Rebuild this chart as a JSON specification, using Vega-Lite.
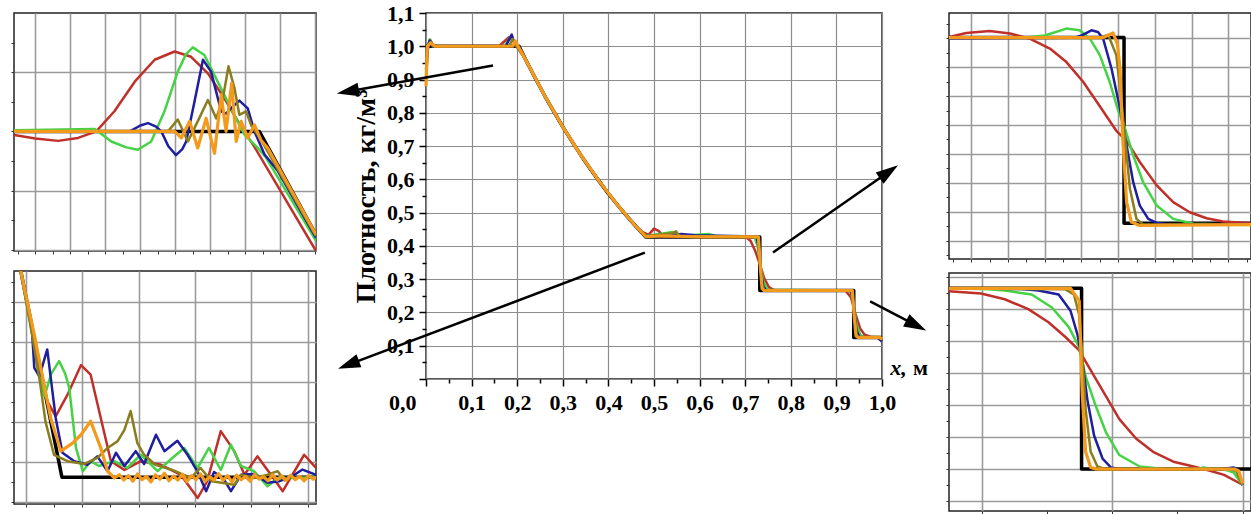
{
"$schema": "https://vega.github.io/schema/vega-lite/v6.json",
"background": "white",
"padding": {"left": 9, "top": 1, "right": 0, "bottom": 0},
"config": {
  "font": "Liberation Serif",
  "view": {"stroke": "#222222", "strokeWidth": 1.5},
  "axis": {"minExtent": 0}
},
"datasets": {
"c": [
{"s":"k","x":0,"y":1.0},{"s":"k","x":0.204,"y":1.0},{"s":"k","x":0.22,"y":0.956},{"s":"k","x":0.24,"y":0.903},{"s":"k","x":0.26,"y":0.852},{"s":"k","x":0.28,"y":0.804},{"s":"k","x":0.30,"y":0.758},{"s":"k","x":0.32,"y":0.714},{"s":"k","x":0.34,"y":0.672},{"s":"k","x":0.36,"y":0.632},{"s":"k","x":0.38,"y":0.594},{"s":"k","x":0.40,"y":0.557},{"s":"k","x":0.42,"y":0.523},{"s":"k","x":0.44,"y":0.490},{"s":"k","x":0.46,"y":0.459},{"s":"k","x":0.482,"y":0.427},{"s":"k","x":0.732,"y":0.427},{"s":"k","x":0.732,"y":0.266},{"s":"k","x":0.938,"y":0.266},{"s":"k","x":0.938,"y":0.125},{"s":"k","x":1.0,"y":0.125},
{"s":"r","x":0,"y":0.90},{"s":"r","x":0.004,"y":0.99},{"s":"r","x":0.009,"y":1.02},{"s":"r","x":0.015,"y":1.005},{"s":"r","x":0.025,"y":1.0},{"s":"r","x":0.16,"y":1.0},{"s":"r","x":0.172,"y":1.015},{"s":"r","x":0.182,"y":1.027},{"s":"r","x":0.192,"y":1.015},{"s":"r","x":0.2,"y":1.0},{"s":"r","x":0.21,"y":0.985},{"s":"r","x":0.22,"y":0.956},{"s":"r","x":0.26,"y":0.852},{"s":"r","x":0.30,"y":0.758},{"s":"r","x":0.34,"y":0.672},{"s":"r","x":0.38,"y":0.594},{"s":"r","x":0.42,"y":0.523},{"s":"r","x":0.46,"y":0.459},{"s":"r","x":0.474,"y":0.442},{"s":"r","x":0.488,"y":0.433},{"s":"r","x":0.5,"y":0.452},{"s":"r","x":0.51,"y":0.445},{"s":"r","x":0.52,"y":0.43},{"s":"r","x":0.55,"y":0.428},{"s":"r","x":0.70,"y":0.428},{"s":"r","x":0.712,"y":0.415},{"s":"r","x":0.722,"y":0.385},{"s":"r","x":0.732,"y":0.345},{"s":"r","x":0.742,"y":0.302},{"s":"r","x":0.752,"y":0.276},{"s":"r","x":0.765,"y":0.266},{"s":"r","x":0.92,"y":0.266},{"s":"r","x":0.932,"y":0.245},{"s":"r","x":0.942,"y":0.195},{"s":"r","x":0.952,"y":0.152},{"s":"r","x":0.962,"y":0.133},{"s":"r","x":0.975,"y":0.127},{"s":"r","x":0.99,"y":0.125},{"s":"r","x":1.0,"y":0.112},
{"s":"g","x":0,"y":0.92},{"s":"g","x":0.004,"y":1.0},{"s":"g","x":0.008,"y":1.02},{"s":"g","x":0.014,"y":1.0},{"s":"g","x":0.17,"y":1.0},{"s":"g","x":0.178,"y":1.012},{"s":"g","x":0.186,"y":1.03},{"s":"g","x":0.195,"y":1.01},{"s":"g","x":0.204,"y":0.995},{"s":"g","x":0.22,"y":0.956},{"s":"g","x":0.26,"y":0.852},{"s":"g","x":0.30,"y":0.758},{"s":"g","x":0.34,"y":0.672},{"s":"g","x":0.38,"y":0.594},{"s":"g","x":0.42,"y":0.523},{"s":"g","x":0.46,"y":0.459},{"s":"g","x":0.482,"y":0.43},{"s":"g","x":0.51,"y":0.435},{"s":"g","x":0.54,"y":0.442},{"s":"g","x":0.55,"y":0.43},{"s":"g","x":0.62,"y":0.436},{"s":"g","x":0.64,"y":0.428},{"s":"g","x":0.72,"y":0.428},{"s":"g","x":0.727,"y":0.40},{"s":"g","x":0.734,"y":0.335},{"s":"g","x":0.741,"y":0.287},{"s":"g","x":0.75,"y":0.268},{"s":"g","x":0.93,"y":0.266},{"s":"g","x":0.937,"y":0.232},{"s":"g","x":0.944,"y":0.165},{"s":"g","x":0.952,"y":0.133},{"s":"g","x":0.962,"y":0.125},{"s":"g","x":0.99,"y":0.127},{"s":"g","x":1.0,"y":0.113},
{"s":"b","x":0,"y":0.93},{"s":"b","x":0.004,"y":1.0},{"s":"b","x":0.008,"y":1.017},{"s":"b","x":0.013,"y":1.0},{"s":"b","x":0.175,"y":1.0},{"s":"b","x":0.182,"y":1.02},{"s":"b","x":0.188,"y":1.035},{"s":"b","x":0.196,"y":1.0},{"s":"b","x":0.204,"y":0.997},{"s":"b","x":0.22,"y":0.956},{"s":"b","x":0.26,"y":0.852},{"s":"b","x":0.30,"y":0.758},{"s":"b","x":0.34,"y":0.672},{"s":"b","x":0.38,"y":0.594},{"s":"b","x":0.42,"y":0.523},{"s":"b","x":0.46,"y":0.459},{"s":"b","x":0.482,"y":0.43},{"s":"b","x":0.53,"y":0.43},{"s":"b","x":0.56,"y":0.436},{"s":"b","x":0.59,"y":0.432},{"s":"b","x":0.725,"y":0.428},{"s":"b","x":0.73,"y":0.39},{"s":"b","x":0.735,"y":0.32},{"s":"b","x":0.74,"y":0.277},{"s":"b","x":0.746,"y":0.266},{"s":"b","x":0.932,"y":0.266},{"s":"b","x":0.938,"y":0.22},{"s":"b","x":0.944,"y":0.147},{"s":"b","x":0.95,"y":0.127},{"s":"b","x":0.99,"y":0.125},{"s":"b","x":1.0,"y":0.113},
{"s":"o","x":0,"y":0.90},{"s":"o","x":0.003,"y":1.0},{"s":"o","x":0.01,"y":1.012},{"s":"o","x":0.016,"y":1.0},{"s":"o","x":0.182,"y":1.0},{"s":"o","x":0.19,"y":1.022},{"s":"o","x":0.198,"y":1.0},{"s":"o","x":0.22,"y":0.956},{"s":"o","x":0.26,"y":0.852},{"s":"o","x":0.30,"y":0.758},{"s":"o","x":0.34,"y":0.672},{"s":"o","x":0.38,"y":0.594},{"s":"o","x":0.42,"y":0.523},{"s":"o","x":0.46,"y":0.459},{"s":"o","x":0.482,"y":0.43},{"s":"o","x":0.54,"y":0.438},{"s":"o","x":0.548,"y":0.444},{"s":"o","x":0.556,"y":0.43},{"s":"o","x":0.728,"y":0.428},{"s":"o","x":0.732,"y":0.36},{"s":"o","x":0.737,"y":0.282},{"s":"o","x":0.742,"y":0.266},{"s":"o","x":0.934,"y":0.266},{"s":"o","x":0.939,"y":0.2},{"s":"o","x":0.944,"y":0.132},{"s":"o","x":0.948,"y":0.125},{"s":"o","x":0.995,"y":0.125},{"s":"o","x":1.0,"y":0.118},
{"s":"y","x":0,"y":0.88},{"s":"y","x":0.003,"y":1.0},{"s":"y","x":0.01,"y":1.01},{"s":"y","x":0.02,"y":1.0},{"s":"y","x":0.19,"y":1.0},{"s":"y","x":0.196,"y":1.016},{"s":"y","x":0.202,"y":1.0},{"s":"y","x":0.22,"y":0.956},{"s":"y","x":0.26,"y":0.852},{"s":"y","x":0.30,"y":0.758},{"s":"y","x":0.34,"y":0.672},{"s":"y","x":0.38,"y":0.594},{"s":"y","x":0.42,"y":0.523},{"s":"y","x":0.46,"y":0.459},{"s":"y","x":0.482,"y":0.428},{"s":"y","x":0.52,"y":0.43},{"s":"y","x":0.6,"y":0.427},{"s":"y","x":0.729,"y":0.427},{"s":"y","x":0.733,"y":0.34},{"s":"y","x":0.737,"y":0.272},{"s":"y","x":0.741,"y":0.266},{"s":"y","x":0.935,"y":0.266},{"s":"y","x":0.939,"y":0.19},{"s":"y","x":0.943,"y":0.13},{"s":"y","x":0.947,"y":0.125},{"s":"y","x":0.995,"y":0.125},{"s":"y","x":1.0,"y":0.12}
],
"arr": [
{"x":0.147,"y":0.942,"x2":-0.1715,"y2":0.864},
{"x":0.480,"y":0.380,"x2":-0.170,"y2":0.043},
{"x":0.761,"y":0.380,"x2":1.015,"y2":0.623},
{"x":0.974,"y":0.233,"x2":1.075,"y2":0.161}
],
"heads": [
{"x":-0.1715,"y":0.864,"a":169.8},
{"x":-0.170,"y":0.043,"a":159.3},
{"x":1.015,"y":0.623,"a":325.2},
{"x":1.075,"y":0.161,"a":27.4}
],
"tl": [
{"s":"k","x":-0.61,"y":0},{"s":"k","x":6.4,"y":0},{"s":"k","x":8.02,"y":-1.75},
{"s":"r","x":-0.61,"y":-0.06},{"s":"r","x":0.0,"y":-0.12},{"s":"r","x":0.65,"y":-0.16},{"s":"r","x":1.22,"y":-0.11},{"s":"r","x":1.74,"y":0.0},{"s":"r","x":2.26,"y":0.34},{"s":"r","x":2.84,"y":0.84},{"s":"r","x":3.41,"y":1.21},{"s":"r","x":3.98,"y":1.35},{"s":"r","x":4.45,"y":1.26},{"s":"r","x":4.93,"y":0.98},{"s":"r","x":5.40,"y":0.56},{"s":"r","x":5.88,"y":0.08},{"s":"r","x":6.26,"y":-0.26},{"s":"r","x":8.02,"y":-2.02},
{"s":"g","x":-0.61,"y":0.02},{"s":"g","x":1.7,"y":0.04},{"s":"g","x":2.17,"y":-0.17},{"s":"g","x":2.6,"y":-0.27},{"s":"g","x":2.93,"y":-0.31},{"s":"g","x":3.31,"y":-0.17},{"s":"g","x":3.69,"y":0.34},{"s":"g","x":4.07,"y":1.01},{"s":"g","x":4.3,"y":1.3},{"s":"g","x":4.5,"y":1.42},{"s":"g","x":4.83,"y":1.29},{"s":"g","x":5.21,"y":0.84},{"s":"g","x":5.59,"y":0.39},{"s":"g","x":5.98,"y":-0.06},{"s":"g","x":6.36,"y":-0.28},{"s":"g","x":6.6,"y":-0.45},{"s":"g","x":8.02,"y":-1.85},
{"s":"b","x":-0.61,"y":0},{"s":"b","x":2.7,"y":0},{"s":"b","x":3.0,"y":0.1},{"s":"b","x":3.22,"y":0.14},{"s":"b","x":3.45,"y":0.08},{"s":"b","x":3.6,"y":0},{"s":"b","x":3.8,"y":-0.25},{"s":"b","x":4.02,"y":-0.40},{"s":"b","x":4.2,"y":-0.3},{"s":"b","x":4.31,"y":-0.17},{"s":"b","x":4.55,"y":0.51},{"s":"b","x":4.79,"y":1.21},{"s":"b","x":5.02,"y":1.01},{"s":"b","x":5.31,"y":0.34},{"s":"b","x":5.45,"y":0.3},{"s":"b","x":5.59,"y":0.39},{"s":"b","x":5.83,"y":0.52},{"s":"b","x":6.07,"y":0.39},{"s":"b","x":6.26,"y":0.0},{"s":"b","x":6.55,"y":-0.39},{"s":"b","x":6.93,"y":-0.67},{"s":"b","x":8.02,"y":-1.80},
{"s":"o","x":-0.61,"y":0},{"s":"o","x":3.79,"y":0},{"s":"o","x":4.07,"y":0.2},{"s":"o","x":4.36,"y":-0.17},{"s":"o","x":4.64,"y":0.17},{"s":"o","x":4.93,"y":0.53},{"s":"o","x":5.17,"y":0.22},{"s":"o","x":5.36,"y":0.56},{"s":"o","x":5.52,"y":1.1},{"s":"o","x":5.69,"y":0.73},{"s":"o","x":5.83,"y":0.28},{"s":"o","x":6.02,"y":0.34},{"s":"o","x":6.17,"y":0.1},{"s":"o","x":6.36,"y":-0.06},{"s":"o","x":6.6,"y":-0.3},{"s":"o","x":8.02,"y":-1.77},
{"s":"y","x":-0.61,"y":0},{"s":"y","x":3.98,"y":0},{"s":"y","x":4.17,"y":-0.11},{"s":"y","x":4.41,"y":0.17},{"s":"y","x":4.64,"y":-0.28},{"s":"y","x":4.88,"y":0.22},{"s":"y","x":5.12,"y":-0.37},{"s":"y","x":5.31,"y":0.62},{"s":"y","x":5.45,"y":0.0},{"s":"y","x":5.61,"y":0.81},{"s":"y","x":5.74,"y":-0.17},{"s":"y","x":5.88,"y":0.17},{"s":"y","x":6.07,"y":-0.11},{"s":"y","x":6.26,"y":0.11},{"s":"y","x":6.45,"y":-0.15},{"s":"y","x":6.64,"y":-0.28},{"s":"y","x":8.02,"y":-1.74}
],
"bl": [
{"s":"k","x":-0.09,"y":5.77},{"s":"k","x":0.64,"y":0.62},{"s":"k","x":5.15,"y":0.62},
{"s":"r","x":-0.09,"y":5.77},{"s":"r","x":0.1,"y":4.4},{"s":"r","x":0.25,"y":3.3},{"s":"r","x":0.38,"y":2.52},{"s":"r","x":0.53,"y":2.14},{"s":"r","x":0.74,"y":2.68},{"s":"r","x":0.98,"y":3.42},{"s":"r","x":1.15,"y":3.18},{"s":"r","x":1.33,"y":2.1},{"s":"r","x":1.51,"y":1.02},{"s":"r","x":1.75,"y":0.8},{"s":"r","x":2.04,"y":1.02},{"s":"r","x":2.4,"y":0.93},{"s":"r","x":2.75,"y":0.68},{"s":"r","x":3.05,"y":0.1},{"s":"r","x":3.22,"y":0.52},{"s":"r","x":3.46,"y":1.77},{"s":"r","x":3.70,"y":1.27},{"s":"r","x":3.88,"y":0.68},{"s":"r","x":4.11,"y":1.14},{"s":"r","x":4.35,"y":0.68},{"s":"r","x":4.56,"y":0.27},{"s":"r","x":4.73,"y":0.68},{"s":"r","x":4.94,"y":1.18},{"s":"r","x":5.15,"y":0.85},
{"s":"g","x":-0.09,"y":5.77},{"s":"g","x":0.1,"y":4.3},{"s":"g","x":0.2,"y":3.4},{"s":"g","x":0.33,"y":2.64},{"s":"g","x":0.45,"y":3.2},{"s":"g","x":0.59,"y":3.52},{"s":"g","x":0.7,"y":3.2},{"s":"g","x":0.77,"y":2.85},{"s":"g","x":0.89,"y":1.35},{"s":"g","x":1.01,"y":0.77},{"s":"g","x":1.15,"y":1.02},{"s":"g","x":1.3,"y":0.9},{"s":"g","x":1.57,"y":1.02},{"s":"g","x":1.8,"y":0.85},{"s":"g","x":2.04,"y":1.18},{"s":"g","x":2.34,"y":0.77},{"s":"g","x":2.6,"y":1.1},{"s":"g","x":2.81,"y":1.35},{"s":"g","x":3.05,"y":0.85},{"s":"g","x":3.25,"y":1.35},{"s":"g","x":3.46,"y":0.8},{"s":"g","x":3.64,"y":1.43},{"s":"g","x":3.82,"y":0.9},{"s":"g","x":4.05,"y":0.77},{"s":"g","x":4.29,"y":0.39},{"s":"g","x":4.47,"y":0.6},{"s":"g","x":4.7,"y":0.6},{"s":"g","x":5.15,"y":0.62},
{"s":"b","x":-0.09,"y":5.77},{"s":"b","x":0.1,"y":4.5},{"s":"b","x":0.15,"y":3.35},{"s":"b","x":0.24,"y":3.14},{"s":"b","x":0.38,"y":3.81},{"s":"b","x":0.53,"y":2.1},{"s":"b","x":0.65,"y":1.23},{"s":"b","x":0.86,"y":1.02},{"s":"b","x":1.09,"y":0.93},{"s":"b","x":1.27,"y":1.14},{"s":"b","x":1.45,"y":0.77},{"s":"b","x":1.60,"y":1.23},{"s":"b","x":1.75,"y":0.9},{"s":"b","x":1.95,"y":1.27},{"s":"b","x":2.1,"y":0.95},{"s":"b","x":2.31,"y":1.68},{"s":"b","x":2.46,"y":1.27},{"s":"b","x":2.69,"y":1.53},{"s":"b","x":2.87,"y":1.18},{"s":"b","x":3.05,"y":0.75},{"s":"b","x":3.2,"y":0.27},{"s":"b","x":3.34,"y":0.75},{"s":"b","x":3.5,"y":0.6},{"s":"b","x":3.64,"y":0.27},{"s":"b","x":3.82,"y":0.68},{"s":"b","x":4.05,"y":0.7},{"s":"b","x":4.29,"y":0.48},{"s":"b","x":4.5,"y":0.52},{"s":"b","x":4.7,"y":0.62},{"s":"b","x":4.91,"y":0.81},{"s":"b","x":5.15,"y":0.68},
{"s":"o","x":-0.09,"y":5.77},{"s":"o","x":0.12,"y":4.1},{"s":"o","x":0.25,"y":3.0},{"s":"o","x":0.35,"y":2.0},{"s":"o","x":0.50,"y":1.18},{"s":"o","x":0.74,"y":1.02},{"s":"o","x":1.04,"y":0.95},{"s":"o","x":1.27,"y":1.1},{"s":"o","x":1.45,"y":1.35},{"s":"o","x":1.63,"y":1.52},{"s":"o","x":1.75,"y":1.8},{"s":"o","x":1.86,"y":2.27},{"s":"o","x":1.98,"y":1.47},{"s":"o","x":2.1,"y":1.18},{"s":"o","x":2.3,"y":0.93},{"s":"o","x":2.6,"y":0.8},{"s":"o","x":2.93,"y":0.6},{"s":"o","x":3.1,"y":0.85},{"s":"o","x":3.3,"y":0.52},{"s":"o","x":3.7,"y":0.43},{"s":"o","x":3.82,"y":0.68},{"s":"o","x":4.05,"y":0.6},{"s":"o","x":4.29,"y":0.68},{"s":"o","x":4.47,"y":0.77},{"s":"o","x":4.6,"y":0.52},
{"s":"y","x":-0.09,"y":5.77},{"s":"y","x":0.15,"y":4.18},{"s":"y","x":0.3,"y":3.1},{"s":"y","x":0.44,"y":2.1},{"s":"y","x":0.62,"y":1.27},{"s":"y","x":0.83,"y":1.47},{"s":"y","x":0.98,"y":1.68},{"s":"y","x":1.15,"y":2.02},{"s":"y","x":1.33,"y":1.35},{"s":"y","x":1.45,"y":0.77},{"s":"y","x":1.57,"y":0.6},{"s":"y","x":1.66,"y":0.68},{"s":"y","x":1.74,"y":0.55},{"s":"y","x":1.82,"y":0.66},{"s":"y","x":1.9,"y":0.52},{"s":"y","x":1.98,"y":0.7},{"s":"y","x":2.06,"y":0.56},{"s":"y","x":2.14,"y":0.64},{"s":"y","x":2.22,"y":0.5},{"s":"y","x":2.3,"y":0.68},{"s":"y","x":2.38,"y":0.57},{"s":"y","x":2.46,"y":0.72},{"s":"y","x":2.54,"y":0.53},{"s":"y","x":2.62,"y":0.65},{"s":"y","x":2.7,"y":0.55},{"s":"y","x":2.78,"y":0.69},{"s":"y","x":2.86,"y":0.51},{"s":"y","x":2.94,"y":0.66},{"s":"y","x":3.02,"y":0.56},{"s":"y","x":3.1,"y":0.7},{"s":"y","x":3.18,"y":0.52},{"s":"y","x":3.26,"y":0.63},{"s":"y","x":3.34,"y":0.55},{"s":"y","x":3.42,"y":0.71},{"s":"y","x":3.5,"y":0.54},{"s":"y","x":3.58,"y":0.66},{"s":"y","x":3.66,"y":0.5},{"s":"y","x":3.74,"y":0.67},{"s":"y","x":3.82,"y":0.56},{"s":"y","x":3.9,"y":0.64},{"s":"y","x":3.98,"y":0.52},{"s":"y","x":4.06,"y":0.69},{"s":"y","x":4.14,"y":0.57},{"s":"y","x":4.22,"y":0.63},{"s":"y","x":4.3,"y":0.53},{"s":"y","x":4.38,"y":0.68},{"s":"y","x":4.46,"y":0.55},{"s":"y","x":4.54,"y":0.65},{"s":"y","x":4.62,"y":0.54},{"s":"y","x":4.7,"y":0.67},{"s":"y","x":4.78,"y":0.56},{"s":"y","x":4.86,"y":0.64},{"s":"y","x":4.94,"y":0.53},{"s":"y","x":5.02,"y":0.66},{"s":"y","x":5.1,"y":0.57},{"s":"y","x":5.15,"y":0.62}
],
"tr": [
{"s":"k","x":-0.61,"y":7.03},{"s":"k","x":4.16,"y":7.03},{"s":"k","x":4.16,"y":0.6},{"s":"k","x":7.62,"y":0.6},
{"s":"r","x":-0.61,"y":7.05},{"s":"r","x":-0.14,"y":7.19},{"s":"r","x":0.5,"y":7.26},{"s":"r","x":1.05,"y":7.17},{"s":"r","x":1.59,"y":6.99},{"s":"r","x":2.14,"y":6.65},{"s":"r","x":2.59,"y":6.18},{"s":"r","x":3.05,"y":5.49},{"s":"r","x":3.5,"y":4.65},{"s":"r","x":3.95,"y":3.8},{"s":"r","x":4.23,"y":3.45},{"s":"r","x":4.59,"y":2.72},{"s":"r","x":5.05,"y":1.91},{"s":"r","x":5.5,"y":1.33},{"s":"r","x":5.95,"y":0.98},{"s":"r","x":6.41,"y":0.77},{"s":"r","x":6.86,"y":0.66},{"s":"r","x":7.62,"y":0.6},
{"s":"g","x":-0.61,"y":7.03},{"s":"g","x":1.5,"y":7.03},{"s":"g","x":2.0,"y":7.1},{"s":"g","x":2.59,"y":7.34},{"s":"g","x":2.95,"y":7.28},{"s":"g","x":3.23,"y":6.99},{"s":"g","x":3.5,"y":6.42},{"s":"g","x":3.77,"y":5.49},{"s":"g","x":4.0,"y":4.5},{"s":"g","x":4.16,"y":3.99},{"s":"g","x":4.41,"y":2.95},{"s":"g","x":4.68,"y":2.02},{"s":"g","x":5.05,"y":1.21},{"s":"g","x":5.5,"y":0.75},{"s":"g","x":6.05,"y":0.58},{"s":"g","x":7.62,"y":0.54},
{"s":"b","x":-0.61,"y":7.0},{"s":"b","x":2.8,"y":7.02},{"s":"b","x":3.0,"y":7.1},{"s":"b","x":3.27,"y":7.28},{"s":"b","x":3.45,"y":7.22},{"s":"b","x":3.59,"y":6.99},{"s":"b","x":3.82,"y":5.95},{"s":"b","x":4.05,"y":4.57},{"s":"b","x":4.23,"y":3.29},{"s":"b","x":4.41,"y":2.02},{"s":"b","x":4.59,"y":1.21},{"s":"b","x":4.82,"y":0.75},{"s":"b","x":5.05,"y":0.61},{"s":"b","x":5.5,"y":0.55},{"s":"b","x":7.62,"y":0.57},
{"s":"o","x":-0.61,"y":7.03},{"s":"o","x":3.5,"y":7.03},{"s":"o","x":3.73,"y":7.12},{"s":"o","x":3.95,"y":6.42},{"s":"o","x":4.09,"y":4.8},{"s":"o","x":4.18,"y":3.64},{"s":"o","x":4.32,"y":1.79},{"s":"o","x":4.5,"y":0.75},{"s":"o","x":4.68,"y":0.56},{"s":"o","x":7.62,"y":0.55},
{"s":"y","x":-0.61,"y":7.03},{"s":"y","x":3.6,"y":7.03},{"s":"y","x":3.86,"y":7.19},{"s":"y","x":3.98,"y":6.8},{"s":"y","x":4.05,"y":5.95},{"s":"y","x":4.12,"y":3.64},{"s":"y","x":4.23,"y":1.33},{"s":"y","x":4.36,"y":0.64},{"s":"y","x":4.59,"y":0.52},{"s":"y","x":7.62,"y":0.55}
],
"br": [
{"s":"k","x":-2.54,"y":6.65},{"s":"k","x":7.64,"y":6.65},{"s":"k","x":7.64,"y":1.0},{"s":"k","x":20.65,"y":1.0},
{"s":"r","x":-2.54,"y":6.56},{"s":"r","x":-0.08,"y":6.49},{"s":"r","x":1.74,"y":6.31},{"s":"r","x":3.55,"y":6.0},{"s":"r","x":5.1,"y":5.59},{"s":"r","x":6.4,"y":5.13},{"s":"r","x":7.44,"y":4.72},{"s":"r","x":8.47,"y":4.0},{"s":"r","x":9.51,"y":3.28},{"s":"r","x":10.54,"y":2.56},{"s":"r","x":11.84,"y":1.95},{"s":"r","x":13.13,"y":1.54},{"s":"r","x":14.69,"y":1.23},{"s":"r","x":16.24,"y":1.08},{"s":"r","x":17.5,"y":0.95},{"s":"r","x":18.58,"y":0.82},{"s":"r","x":20.0,"y":0.51},
{"s":"g","x":-2.54,"y":6.65},{"s":"g","x":0.5,"y":6.62},{"s":"g","x":1.74,"y":6.58},{"s":"g","x":3.81,"y":6.46},{"s":"g","x":5.36,"y":6.05},{"s":"g","x":6.66,"y":5.44},{"s":"g","x":7.44,"y":4.82},{"s":"g","x":7.95,"y":3.9},{"s":"g","x":8.73,"y":2.97},{"s":"g","x":9.51,"y":2.15},{"s":"g","x":10.54,"y":1.44},{"s":"g","x":12.1,"y":1.08},{"s":"g","x":14.0,"y":1.0},{"s":"g","x":16.5,"y":1.0},{"s":"g","x":17.0,"y":1.05},{"s":"g","x":17.5,"y":1.02},{"s":"g","x":18.5,"y":1.0},{"s":"g","x":19.3,"y":0.9},{"s":"g","x":20.0,"y":0.5},
{"s":"b","x":-2.54,"y":6.65},{"s":"b","x":3.0,"y":6.63},{"s":"b","x":4.33,"y":6.58},{"s":"b","x":5.88,"y":6.46},{"s":"b","x":6.79,"y":5.95},{"s":"b","x":7.31,"y":5.23},{"s":"b","x":7.69,"y":4.41},{"s":"b","x":8.08,"y":3.18},{"s":"b","x":8.6,"y":2.05},{"s":"b","x":9.25,"y":1.33},{"s":"b","x":9.9,"y":1.05},{"s":"b","x":10.5,"y":1.0},{"s":"b","x":18.5,"y":1.0},{"s":"b","x":19.3,"y":1.05},{"s":"b","x":19.6,"y":1.0},{"s":"b","x":20.0,"y":0.5},
{"s":"o","x":-2.54,"y":6.65},{"s":"o","x":6.4,"y":6.62},{"s":"o","x":7.05,"y":6.46},{"s":"o","x":7.44,"y":5.85},{"s":"o","x":7.69,"y":4.62},{"s":"o","x":7.95,"y":2.87},{"s":"o","x":8.34,"y":1.54},{"s":"o","x":8.86,"y":1.08},{"s":"o","x":9.5,"y":1.0},{"s":"o","x":19.0,"y":1.0},{"s":"o","x":19.5,"y":0.95},{"s":"o","x":20.0,"y":0.5},
{"s":"y","x":-2.54,"y":6.65},{"s":"y","x":6.8,"y":6.65},{"s":"y","x":7.46,"y":6.26},{"s":"y","x":7.56,"y":4.92},{"s":"y","x":7.69,"y":3.38},{"s":"y","x":7.95,"y":1.54},{"s":"y","x":8.34,"y":1.05},{"s":"y","x":8.8,"y":1.0},{"s":"y","x":19.35,"y":1.0},{"s":"y","x":19.7,"y":0.95},{"s":"y","x":20.0,"y":0.55}
]
},
"spacing": 19,
"hconcat": [
{
  "bounds": "flush",
  "spacing": 20,
  "vconcat": [
    {
      "width": 302, "height": 238,
      "title": {"text": " ", "fontSize": 9, "offset": 0},
      "data": {"name": "tl"},
      "mark": {"type": "line", "clip": true, "strokeJoin": "round"},
      "encoding": {
        "x": {"field": "x", "type": "quantitative", "scale": {"domain": [-0.61, 8.02], "nice": false, "zero": false},
          "axis": {"values": [-0.5,0,0.5,1,1.5,2,2.5,3,3.5,4,4.5,5,5.5,6,6.5,7,7.5,8], "grid": true, "gridColor": "#9a9a9a", "gridWidth": 1.6,
            "gridOpacity": {"condition": {"test": "datum.value == round(datum.value)", "value": 1}, "value": 0},
            "labels": false, "ticks": true, "tickSize": 3, "tickColor": "#333333", "domain": false, "title": null}},
        "y": {"field": "y", "type": "quantitative", "scale": {"domain": [-2.02, 2.0], "nice": false, "zero": false},
          "axis": {"values": [-2,-1.5,-1,-0.5,0,0.5,1,1.5], "grid": true, "gridColor": "#9a9a9a", "gridWidth": 1.6,
            "gridOpacity": {"condition": {"test": "datum.value == round(datum.value)", "value": 1}, "value": 0},
            "labels": false, "ticks": true, "tickSize": 3, "tickColor": "#333333", "domain": false, "title": null}},
        "color": {"field": "s", "type": "nominal", "scale": {"domain": ["k","r","g","b","o","y"], "range": ["#000000","#c0302a","#45d345","#1e1e9e","#8a7d1e","#f39a1c"]}, "legend": null},
        "strokeWidth": {"field": "s", "type": "nominal", "scale": {"type": "ordinal", "domain": ["k","r","g","b","o","y"], "range": [3.5,2.5,2.5,2.5,2.5,3.2]}, "legend": null},
        "order": {"value": null}
      }
    },
    {
      "width": 302, "height": 233,
      "data": {"name": "bl"},
      "mark": {"type": "line", "clip": true, "strokeJoin": "round"},
      "encoding": {
        "x": {"field": "x", "type": "quantitative", "scale": {"domain": [-0.21, 5.15], "nice": false, "zero": false},
          "axis": {"values": [0,0.5,1,1.5,2,2.5,3,3.5,4,4.5,5], "grid": true, "gridColor": "#9a9a9a", "gridWidth": 1.6,
            "gridOpacity": {"condition": {"test": "datum.value == round(datum.value)", "value": 1}, "value": 0},
            "labels": false, "ticks": true, "tickSize": 3, "tickColor": "#333333", "domain": false, "title": null}},
        "y": {"field": "y", "type": "quantitative", "scale": {"domain": [-0.05, 5.77], "nice": false, "zero": false},
          "axis": {"values": [0,0.5,1,1.5,2,2.5,3,3.5,4,4.5,5,5.5], "grid": true, "gridColor": "#9a9a9a", "gridWidth": 1.6,
            "gridOpacity": {"condition": {"test": "datum.value == round(datum.value)", "value": 1}, "value": 0},
            "labels": false, "ticks": true, "tickSize": 3, "tickColor": "#333333", "domain": false, "title": null}},
        "color": {"field": "s", "type": "nominal", "scale": {"domain": ["k","r","g","b","o","y"], "range": ["#000000","#c0302a","#45d345","#1e1e9e","#8a7d1e","#f39a1c"]}, "legend": null},
        "strokeWidth": {"field": "s", "type": "nominal", "scale": {"type": "ordinal", "domain": ["k","r","g","b","o","y"], "range": [3.5,2.5,2.5,2.5,2.5,3.5]}, "legend": null},
        "order": {"value": null}
      }
    }
  ]
},
{
  "spacing": 15,
  "hconcat": [
    {
      "width": 456, "height": 366,
      "encoding": {
        "x": {"field": "x", "type": "quantitative", "scale": {"domain": [0, 1], "nice": false, "zero": false},
          "axis": {"values": [0,0.05,0.1,0.15,0.2,0.25,0.3,0.35,0.4,0.45,0.5,0.55,0.6,0.65,0.7,0.75,0.8,0.85,0.9,0.95,1.0],
            "grid": true, "gridColor": "#8c8c8c", "gridWidth": 1.2,
            "gridOpacity": {"condition": {"test": "round(datum.value*20) % 2 == 0", "value": 1}, "value": 0},
            "tickSize": {"condition": {"test": "round(datum.value*20) % 2 == 0", "value": 7}, "value": 4},
            "tickColor": "#000000", "tickWidth": 1.5, "domain": false, "title": null,
            "labelExpr": "round(datum.value*20) % 2 == 0 ? replace(format(datum.value, '.1f'), '.', ',') : ''",
            "labelFont": "Liberation Serif", "labelFontSize": 22, "labelFontWeight": "bold", "labelColor": "#000000",
            "labelAlign": {"condition": {"test": "datum.value == 0", "value": "right"}, "value": "center"},
            "labelOffset": {"condition": {"test": "datum.value == 0", "value": -10}, "value": 0},
            "labelPadding": 6, "labelFlush": false, "labelOverlap": false}},
        "y": {"field": "y", "type": "quantitative", "scale": {"domain": [0, 1.1], "nice": false, "zero": false},
          "axis": {"values": [0,0.05,0.1,0.15,0.2,0.25,0.3,0.35,0.4,0.45,0.5,0.55,0.6,0.65,0.7,0.75,0.8,0.85,0.9,0.95,1.0,1.05,1.1],
            "grid": true, "gridColor": "#8c8c8c", "gridWidth": 1.2,
            "gridOpacity": {"condition": {"test": "round(datum.value*20) % 2 == 0", "value": 1}, "value": 0},
            "tickSize": {"condition": {"test": "round(datum.value*20) % 2 == 0", "value": 7}, "value": 4},
            "tickColor": "#000000", "tickWidth": 1.5, "domain": false,
            "labelExpr": "round(datum.value*20) % 2 == 0 && datum.value > 0 ? replace(format(datum.value, '.1f'), '.', ',') : ''",
            "labelFont": "Liberation Serif", "labelFontSize": 22, "labelFontWeight": "bold", "labelColor": "#000000",
            "labelPadding": 5, "labelOverlap": false, "labelFlush": false, "labelBound": false,
            "title": "Плотность, кг/м³", "titleFont": "Liberation Serif", "titleFontSize": 28, "titleFontWeight": "bold", "titleColor": "#000000", "titlePadding": 6}}
      },
      "layer": [
        {
          "data": {"name": "c"},
          "mark": {"type": "line", "strokeJoin": "round"},
          "encoding": {
            "color": {"field": "s", "type": "nominal", "scale": {"domain": ["k","r","g","b","o","y"], "range": ["#000000","#c0302a","#45d345","#1e1e9e","#8a7d1e","#f39a1c"]}, "legend": null},
            "strokeWidth": {"field": "s", "type": "nominal", "scale": {"type": "ordinal", "domain": ["k","r","g","b","o","y"], "range": [3,2,2,2,2,3]}, "legend": null},
            "order": {"value": null}
          }
        },
        {
          "data": {"name": "arr"},
          "mark": {"type": "rule", "color": "#000000", "strokeWidth": 2.5},
          "encoding": {
            "x2": {"field": "x2"},
            "y2": {"field": "y2"}
          }
        },
        {
          "data": {"name": "heads"},
          "mark": {"type": "point", "shape": "M1,0L-1,-0.62L-1,0.62Z", "filled": true, "color": "#000000", "opacity": 1, "size": 500, "strokeWidth": 0},
          "encoding": {
            "angle": {"field": "a", "type": "quantitative", "scale": null}
          }
        },
        {
          "data": {"values": [{"t": "x,", "x": 1.018, "y": 0.012}]},
          "mark": {"type": "text", "align": "left", "baseline": "alphabetic", "font": "Liberation Serif", "fontSize": 22, "fontWeight": "bold", "fontStyle": "italic", "color": "#000000"},
          "encoding": {
            "text": {"field": "t"}
          }
        },
        {
          "data": {"values": [{"t": "м", "x": 1.068, "y": 0.012}]},
          "mark": {"type": "text", "align": "left", "baseline": "alphabetic", "font": "Liberation Serif", "fontSize": 22, "fontWeight": "bold", "color": "#000000"},
          "encoding": {
            "text": {"field": "t"}
          }
        }
      ]
    },
    {
      "bounds": "flush",
      "spacing": 14,
      "vconcat": [
        {
          "width": 302, "height": 246,
          "title": {"text": " ", "fontSize": 9, "offset": 0},
          "data": {"name": "tr"},
          "mark": {"type": "line", "clip": true, "strokeJoin": "round"},
          "encoding": {
            "x": {"field": "x", "type": "quantitative", "scale": {"domain": [-0.61, 7.62], "nice": false, "zero": false},
              "axis": {"values": [-0.5,0,0.5,1,1.5,2,2.5,3,3.5,4,4.5,5,5.5,6,6.5,7,7.5], "grid": true, "gridColor": "#9a9a9a", "gridWidth": 1.6,
                "gridOpacity": {"condition": {"test": "datum.value == round(datum.value)", "value": 1}, "value": 0},
                "labels": false, "ticks": true, "tickSize": 3, "tickColor": "#333333", "domain": false, "title": null}},
            "y": {"field": "y", "type": "quantitative", "scale": {"domain": [-0.64, 7.88], "nice": false, "zero": false},
              "axis": {"values": [-0.5,0,0.5,1,1.5,2,2.5,3,3.5,4,4.5,5,5.5,6,6.5,7,7.5], "grid": true, "gridColor": "#9a9a9a", "gridWidth": 1.6,
                "gridOpacity": {"condition": {"test": "datum.value == round(datum.value)", "value": 1}, "value": 0},
                "labels": false, "ticks": true, "tickSize": 3, "tickColor": "#333333", "domain": false, "title": null}},
            "color": {"field": "s", "type": "nominal", "scale": {"domain": ["k","r","g","b","o","y"], "range": ["#000000","#c0302a","#45d345","#1e1e9e","#8a7d1e","#f39a1c"]}, "legend": null},
            "strokeWidth": {"field": "s", "type": "nominal", "scale": {"type": "ordinal", "domain": ["k","r","g","b","o","y"], "range": [3.5,2.5,2.5,2.5,2.5,3]}, "legend": null},
            "order": {"value": null}
          }
        },
        {
          "width": 302, "height": 238,
          "data": {"name": "br"},
          "mark": {"type": "line", "clip": true, "strokeJoin": "round"},
          "encoding": {
            "x": {"field": "x", "type": "quantitative", "scale": {"domain": [-2.54, 20.65], "nice": false, "zero": false},
              "axis": {"values": [0,5,10,15,20], "grid": true, "gridColor": "#9a9a9a", "gridWidth": 1.6,
                "gridOpacity": {"condition": {"test": "datum.value % 10 == 0", "value": 1}, "value": 0},
                "labels": false, "ticks": true, "tickSize": 3, "tickColor": "#333333", "domain": false, "title": null}},
            "y": {"field": "y", "type": "quantitative", "scale": {"domain": [-0.31, 7.13], "nice": false, "zero": false},
              "axis": {"values": [0,0.5,1,1.5,2,2.5,3,3.5,4,4.5,5,5.5,6,6.5,7], "grid": true, "gridColor": "#9a9a9a", "gridWidth": 1.6,
                "gridOpacity": {"condition": {"test": "datum.value == round(datum.value)", "value": 1}, "value": 0},
                "labels": false, "ticks": true, "tickSize": 3, "tickColor": "#333333", "domain": false, "title": null}},
            "color": {"field": "s", "type": "nominal", "scale": {"domain": ["k","r","g","b","o","y"], "range": ["#000000","#c0302a","#45d345","#1e1e9e","#8a7d1e","#f39a1c"]}, "legend": null},
            "strokeWidth": {"field": "s", "type": "nominal", "scale": {"type": "ordinal", "domain": ["k","r","g","b","o","y"], "range": [3.5,2.5,2.5,2.5,2.5,3]}, "legend": null},
            "order": {"value": null}
          }
        }
      ]
    }
  ]
}
]
}
